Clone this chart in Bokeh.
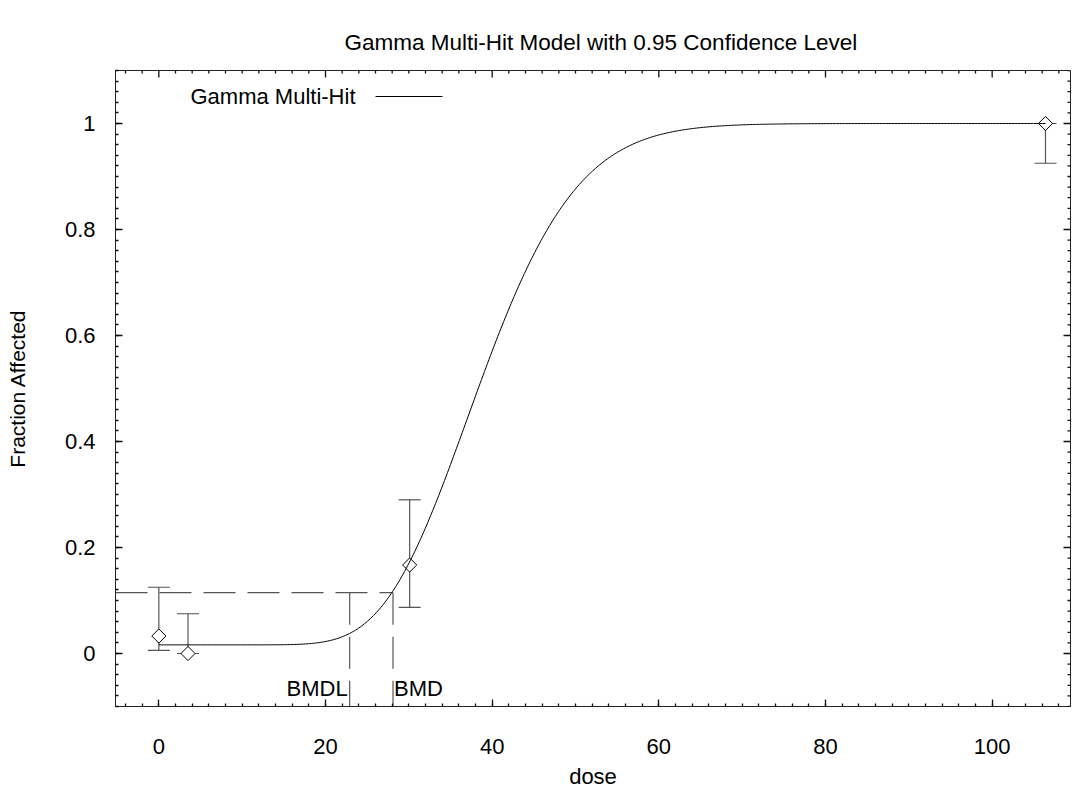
import math
import numpy as np
from bokeh.plotting import figure
from bokeh.models import (Range1d, SingleIntervalTicker, Whisker, TeeHead,
                          ColumnDataSource, Label, BoxAnnotation, CustomJSTickFormatter)
from bokeh.embed import file_html
from bokeh.resources import INLINE

# ---- data ----
dose = [0.0, 3.5, 30.1, 106.4]
fraction = [0.033, 0.0, 0.167, 1.0]
ci_lower = [0.006, 0.0, 0.087, 0.925]
ci_upper = [0.125, 0.075, 0.290, 1.0]

# fitted Gamma Multi-Hit model parameters (estimated from the curve)
background = 0.0163
gamma_power = 18.0
gamma_slope = 0.4587

bmr_level = 0.1147
bmd = 28.1
bmdl = 22.9

x_start, x_end = -5.2, 109.4
y_start, y_end = -0.1, 1.1
x_major_step, x_minor_step = 20, 2
y_major_step, y_minor_step = 0.2, 0.02

FONT = "Liberation Sans"

# ---- layout ----
W, H = 1072, 792
B_LEFT, B_RIGHT, B_TOP, B_BOTTOM = 115, 2, 70, 86
FRAME_W = W - B_LEFT - B_RIGHT
FRAME_H = H - B_TOP - B_BOTTOM
PX_X = FRAME_W / (x_end - x_start)
PX_Y = FRAME_H / (y_end - y_start)
MAJOR_LEN, MINOR_LEN = 7, 3
TICK_COLOR = "#111111"


def gamma_cdf(a, x):
    x = np.asarray(x, dtype=float)
    out = np.zeros_like(x)
    pos = x > 0
    xp = x[pos]
    term = np.ones_like(xp) / a
    s = term.copy()
    for n in range(1, 500):
        term = term * xp / (a + n)
        s += term
    out[pos] = np.exp(a * np.log(xp) - xp - math.lgamma(a)) * s
    return np.clip(out, 0, 1)


curve_dose = np.linspace(0, max(dose), 600)
curve_p = background + (1 - background) * gamma_cdf(gamma_power, gamma_slope * curve_dose)

p = figure(width=W, height=H,
           x_range=Range1d(x_start, x_end), y_range=Range1d(y_start, y_end),
           output_backend="svg", toolbar_location=None,
           min_border_left=B_LEFT, min_border_right=B_RIGHT,
           min_border_top=B_TOP, min_border_bottom=B_BOTTOM,
           x_axis_label="dose", y_axis_label="Fraction Affected")
p.grid.visible = False
p.outline_line_color = "#222222"
p.outline_line_width = 1
p.background_fill_color = "white"
p.border_fill_color = "white"

p.title.text = "Gamma Multi-Hit Model with 0.95 Confidence Level"
p.title.align = "left"
p.title.offset = 229
p.title.text_font = FONT
p.title.text_font_size = "22.5px"
p.title.text_font_style = "normal"
p.title.text_color = "#000000"
p.title.standoff = 31

xt = SingleIntervalTicker(interval=x_major_step, num_minor_ticks=int(round(x_major_step / x_minor_step)))
yt = SingleIntervalTicker(interval=y_major_step, num_minor_ticks=int(round(y_major_step / y_minor_step)))

for ax in (p.xaxis[0], p.yaxis[0]):
    ax.axis_line_color = "#222222"
    ax.major_tick_line_color = TICK_COLOR
    ax.minor_tick_line_color = TICK_COLOR
    ax.major_tick_line_width = 1.3
    ax.minor_tick_line_width = 1.3
    ax.major_tick_in = MAJOR_LEN
    ax.major_tick_out = 0
    ax.minor_tick_in = MINOR_LEN
    ax.minor_tick_out = 0
    ax.major_label_text_font = FONT
    ax.major_label_text_color = "#000000"
    ax.major_label_text_font_size = "22px"
    ax.axis_label_text_font = FONT
    ax.axis_label_text_font_style = "normal"
    ax.axis_label_text_color = "#000000"

p.xaxis.ticker = xt
p.yaxis.ticker = yt
p.yaxis.formatter = CustomJSTickFormatter(code="return (Math.round(tick*10)/10).toString();")
p.xaxis.axis_label_text_font_size = "22px"
p.yaxis.axis_label_text_font_size = "21px"
p.xaxis.major_label_standoff = 32
p.xaxis.axis_label_standoff = 7
p.yaxis.major_label_standoff = 20
p.yaxis.axis_label_standoff = 33

# mirrored ticks on the top and right edges of the frame
x_minor = np.arange(math.ceil(x_start / x_minor_step), math.floor(x_end / x_minor_step) + 1) * x_minor_step
y_minor = np.arange(math.ceil(y_start / y_minor_step - 1e-9), math.floor(y_end / y_minor_step + 1e-9) + 1) * y_minor_step
x_mod = np.mod(x_minor, x_major_step)
y_mod = np.mod(y_minor + 1e-9, y_major_step)
x_is_major = np.isclose(x_mod, 0) | np.isclose(x_mod, x_major_step)
y_is_major = np.isclose(y_mod, 0, atol=1e-6) | np.isclose(y_mod, y_major_step, atol=1e-6)
x_len = np.where(x_is_major, MAJOR_LEN, MINOR_LEN) / PX_Y
y_len = np.where(y_is_major, MAJOR_LEN, MINOR_LEN) / PX_X
p.segment(x0=x_minor, y0=np.full(len(x_minor), y_end), x1=x_minor, y1=y_end - x_len,
          line_color=TICK_COLOR, line_width=1.3)
p.segment(x0=np.full(len(y_minor), x_end), y0=y_minor, x1=x_end - y_len, y1=y_minor,
          line_color=TICK_COLOR, line_width=1.3)

# BMD dashed lines
p.line(x=[x_start, bmd], y=[bmr_level, bmr_level], line_color="#555555",
       line_width=1.2, line_dash="32 12")
p.segment(x0=[bmdl, bmd], y0=[bmr_level, bmr_level], x1=[bmdl, bmd], y1=[y_start, y_start],
          line_color="#555555", line_width=1.2, line_dash="32 12")

# error bars
src = ColumnDataSource(dict(dose=dose, fraction=fraction, lower=ci_lower, upper=ci_upper))
wh = Whisker(source=src, base="dose", upper="upper", lower="lower", dimension="height",
             line_color="#555555", line_width=1.2,
             upper_head=TeeHead(size=22, line_color="#555555", line_width=1.2),
             lower_head=TeeHead(size=22, line_color="#555555", line_width=1.2))
p.add_layout(wh)

# observed points (diamonds)
p.scatter(x="dose", y="fraction", source=src, marker="square", angle=math.pi / 4,
          size=10, fill_color="white", line_color="#000000", line_width=1)

# model curve
p.line(x=curve_dose, y=curve_p, line_color="#000000", line_width=1)

# BMD labels
p.add_layout(Label(x=bmdl, y=-0.066, text="BMDL", text_align="right", text_baseline="alphabetic",
                   x_offset=-2, text_font=FONT, text_font_size="22px", text_color="#000000"))
p.add_layout(Label(x=bmd, y=-0.066, text="BMD", text_align="left", text_baseline="alphabetic",
                   x_offset=1, text_font=FONT, text_font_size="22px", text_color="#000000"))

# legend (text followed by line sample)
p.add_layout(Label(x=75, y=FRAME_H - 26, x_units="screen", y_units="screen", text="Gamma Multi-Hit",
                   text_align="left", text_baseline="middle", text_font=FONT,
                   text_font_size="22px", text_color="#000000"))
p.add_layout(BoxAnnotation(left=260, right=327, bottom=FRAME_H - 26.5, top=FRAME_H - 25.5,
                           left_units="screen", right_units="screen",
                           bottom_units="screen", top_units="screen",
                           fill_color="#000000", fill_alpha=1, line_color=None))

open("out.html", "w").write(file_html(p, INLINE))
